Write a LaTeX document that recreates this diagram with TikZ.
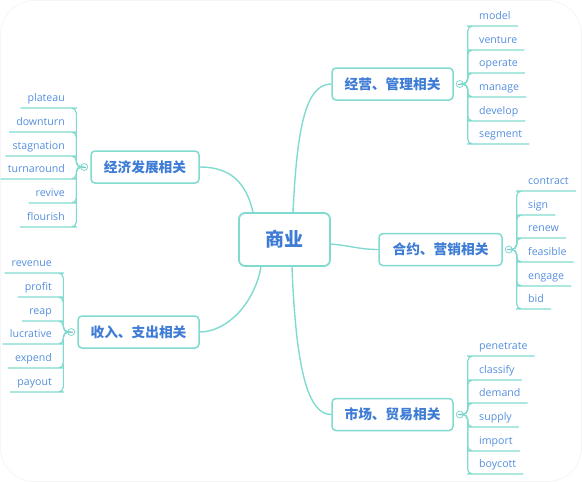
\documentclass[tikz,border=0pt]{standalone}
\usepackage{fontspec}
\setmainfont{Open Sans}
\newfontfamily\cjk{Noto Sans CJK SC}

\definecolor{teal0}{RGB}{128,218,208}
\definecolor{leafblue}{RGB}{84,142,222}
\definecolor{boxblue}{RGB}{62,124,214}

\tikzset{
	root/.style={draw=teal0, line width=1.8pt, rounded corners=6pt, fill=white, minimum width=91pt, minimum height=53pt, font=\cjk\bfseries\fontsize{19}{19}\selectfont, text=boxblue},
	topic/.style={draw=teal0, line width=1.5pt, rounded corners=4pt, fill=white, minimum width=121pt, minimum height=32pt, inner sep=0pt, font=\cjk\bfseries\fontsize{13.7}{14}\selectfont, text=boxblue},
	leaf/.style={inner xsep=7pt, inner ysep=3pt, text height=8pt, text depth=3pt, font=\fontsize{10.6}{12}\selectfont, text=leafblue},
	fold/.style={circle, draw=teal0, fill=white, line width=0.8pt, minimum size=7pt, inner sep=0pt, path picture={\draw[black!35, line width=0.5pt] ([xshift=-1.8pt]path picture bounding box.center) -- ([xshift=1.8pt]path picture bounding box.center);}},
	link/.style={draw=teal0, line width=1.4pt},
	branch/.style={draw=teal0, line width=1.2pt, rounded corners=5pt}
}

\begin{document}
\begin{tikzpicture}[x=1pt, y=-1pt]
	\useasboundingbox (0,0) rectangle (582,482);
	\draw[black!4, line width=0.8pt, rounded corners=34pt] (0.5,0.5) rectangle (581.5,481.5);

	% centre and topics
	\node[root] (root) at (284.5,239.5) {商业};
	\node[topic] (jy) at (392.5,84) {经营、管理相关};
	\node[topic, minimum width=108pt] (jj) at (145,167) {经济发展相关};
	\node[topic] (sr) at (138.5,332) {收入、支出相关};
	\node[topic, minimum width=123pt] (hy) at (440.5,249.5) {合约、营销相关};
	\node[topic] (sc) at (392.5,414.5) {市场、贸易相关};

	\draw[link] ([xshift=8.5pt]root.north) .. controls (297,130) and (305,84) .. (jy.west);
	\draw[link] ([xshift=-31.5pt]root.north) .. controls (246,182) and (230,167) .. (jj.east);
	\draw[link] ([xshift=-23.5pt]root.south) .. controls (254,305) and (226,332) .. (sr.east);
	\draw[link] ([yshift=-4.5pt]root.east) .. controls (352,246) and (360,249.5) .. (hy.west);
	\draw[link] ([xshift=7.5pt]root.south) .. controls (296,370) and (308,414.5) .. (sc.west);

	\node[fold] (jy-f) at ([xshift=6pt]jy.east) {};
	\node[fold] (hy-f) at ([xshift=6pt]hy.east) {};
	\node[fold] (sc-f) at ([xshift=6pt]sc.east) {};
	\node[fold] (jj-f) at ([xshift=-6pt]jj.west) {};
	\node[fold] (sr-f) at ([xshift=-6pt]sr.west) {};

	% leaves on the right
	\foreach \w/\y in {model/26, venture/50, operate/73, manage/97, develop/121, segment/144} {
		\node[leaf, anchor=south west] (jy-\w) at (472,\y) {\w};
		\draw[branch] (jy-f.east) -- ++(4pt,0) |- (jy-\w.south west) -- (jy-\w.south east);
	}
	\foreach \w/\y in {contract/191, sign/215, renew/238, feasible/262, engage/286, bid/309} {
		\node[leaf, anchor=south west] (hy-\w) at (521,\y) {\w};
		\draw[branch] (hy-f.east) -- ++(4pt,0) |- (hy-\w.south west) -- (hy-\w.south east);
	}
	\foreach \w/\y in {penetrate/356, classify/380, demand/403, supply/427, import/451, boycott/474} {
		\node[leaf, anchor=south west] (sc-\w) at (472,\y) {\w};
		\draw[branch] (sc-f.east) -- ++(4pt,0) |- (sc-\w.south west) -- (sc-\w.south east);
	}

	% leaves on the left
	\foreach \w/\y in {plateau/108, downturn/132, stagnation/156, turnaround/179, revive/203, flourish/227} {
		\node[leaf, anchor=south east] (jj-\w) at (72,\y) {\w};
		\draw[branch] (jj-f.west) -- ++(-4pt,0) |- (jj-\w.south east) -- (jj-\w.south west);
	}
	\foreach \w/\y in {revenue/273, profit/297, reap/321, lucrative/344, expend/368, payout/392} {
		\node[leaf, anchor=south east] (sr-\w) at (59,\y) {\w};
		\draw[branch] (sr-f.west) -- ++(-4pt,0) |- (sr-\w.south east) -- (sr-\w.south west);
	}
\end{tikzpicture}
\end{document}
